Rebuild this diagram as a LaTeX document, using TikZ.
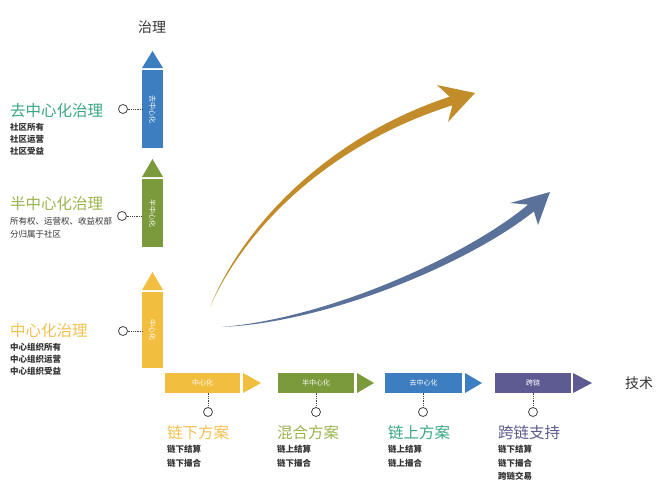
\documentclass[tikz,border=0pt]{standalone}
\usepackage{fontspec}
\usepackage{graphicx}
\setmainfont{Noto Sans CJK SC}
\definecolor{amarillo}{RGB}{242,190,64}
\definecolor{verde}{RGB}{122,154,60}
\definecolor{azul}{RGB}{60,126,192}
\definecolor{morado}{RGB}{94,91,147}
\definecolor{oro}{RGB}{194,140,42}
\definecolor{acero}{RGB}{90,114,153}
\definecolor{turquesa}{RGB}{58,166,132}
\definecolor{oliva}{RGB}{154,180,78}
\definecolor{miel}{RGB}{242,192,80}
\definecolor{lila}{RGB}{92,90,140}
\definecolor{texto}{RGB}{51,51,51}
\definecolor{gris}{RGB}{68,68,68}
\begin{document}
\begin{tikzpicture}[x=1pt,y=-1pt]

	%DEFINICIONES
	\tikzstyle{every node}=[inner sep=0pt, outer sep=0pt]
	\tikzstyle{barra} = [align=center, text=white, font=\fontsize{7}{7}\selectfont, minimum width=21pt]
	\tikzstyle{barrah} = [align=center, text=white, font=\fontsize{7}{7}\selectfont, minimum height=20pt]
	\tikzstyle{titulo} = [anchor=west, font=\fontsize{15.5}{16}\selectfont]
	\tikzstyle{detalle} = [anchor=north west, align=left, text=texto, font=\bfseries\fontsize{8.5}{12}\selectfont]
	\tikzstyle{detalleb} = [anchor=north west, align=left, text=texto, font=\bfseries\fontsize{8.5}{13.5}\selectfont]
	\tikzstyle{punto} = [circle, draw=gris, fill=white, line width=0.8pt, minimum size=9pt]
	\tikzstyle{guion} = [densely dotted, draw=gris, line width=0.8pt]
	\tikzstyle{eje} = [font=\fontsize{14}{14}\selectfont, text=texto]

	\useasboundingbox (0,0) rectangle (668,498);

	%EJES
	\draw(152,27) node[eje](ejey){治理};
	\draw(639,383) node[eje](ejex){技术};

	%BARRAS VERTICALES
	\draw(152.5,109) node[barra, fill=azul, minimum height=78pt](vd){\rotatebox{-90}{去中心化}};
	\draw(152.5,213) node[barra, fill=verde, minimum height=68pt](vs){\rotatebox{-90}{半中心化}};
	\draw(152.5,330) node[barra, fill=amarillo, minimum height=76pt](vc){\rotatebox{-90}{中心化}};
	\fill[azul] ([yshift=2pt]vd.north west) -- ([yshift=2pt]vd.north east) -- ([yshift=19pt]vd.north) -- cycle;
	\fill[verde] ([yshift=2pt]vs.north west) -- ([yshift=2pt]vs.north east) -- ([yshift=20pt]vs.north) -- cycle;
	\fill[amarillo] ([yshift=2pt]vc.north west) -- ([yshift=2pt]vc.north east) -- ([yshift=20pt]vc.north) -- cycle;

	%BARRAS HORIZONTALES
	\draw(202.5,383) node[barrah, fill=amarillo, minimum width=75pt](hc){中心化};
	\draw(316,383) node[barrah, fill=verde, minimum width=76pt](hs){半中心化};
	\draw(423.5,383) node[barrah, fill=azul, minimum width=77pt](hd){去中心化};
	\draw(533,383) node[barrah, fill=morado, minimum width=76pt](hx){跨链};
	\fill[amarillo] ([xshift=3pt]hc.north east) -- ([xshift=3pt]hc.south east) -- ([xshift=21pt]hc.east) -- cycle;
	\fill[verde] ([xshift=3pt]hs.north east) -- ([xshift=3pt]hs.south east) -- ([xshift=20pt]hs.east) -- cycle;
	\fill[azul] ([xshift=3pt]hd.north east) -- ([xshift=3pt]hd.south east) -- ([xshift=20pt]hd.east) -- cycle;
	\fill[morado] ([xshift=2pt]hx.north east) -- ([xshift=2pt]hx.south east) -- ([xshift=21pt]hx.east) -- cycle;

	%PUNTOS
	\draw(123,109) node[punto](pd){};
	\draw(122,216) node[punto](ps){};
	\draw(123,331) node[punto](pc){};
	\draw(208,412) node[punto](qc){};
	\draw(316,412) node[punto](qs){};
	\draw(423,412) node[punto](qd){};
	\draw(533,412) node[punto](qx){};
	\draw [guion] (pd.east) -- (pd.east -| vd.west);
	\draw [guion] (ps.east) -- (ps.east -| vs.west);
	\draw [guion] (pc.east) -- (pc.east -| vc.west);
	\draw [guion] (qc.north) -- (qc.north |- hc.south);
	\draw [guion] (qs.north) -- (qs.north |- hs.south);
	\draw [guion] (qd.north) -- (qd.north |- hd.south);
	\draw [guion] (qx.north) -- (qx.north |- hx.south);

	%TEXTOS IZQUIERDA
	\draw(10,111) node[titulo, text=turquesa](td){去中心化治理};
	\draw(10,123.5) node[detalle](dd){社区所有\\社区运营\\社区受益};
	\draw(10,204) node[titulo, text=oliva](ts){半中心化治理};
	\draw(10,217.5) node[detalle, font=\fontsize{8.5}{13}\selectfont](ds){所有权、运营权、收益权部\\分归属于社区};
	\draw(10,331) node[titulo, text=miel](tc){中心化治理};
	\draw(10,343.5) node[detalle](dc){中心组织所有\\中心组织运营\\中心组织受益};

	%TEXTOS ABAJO
	\draw(167,433) node[titulo, text=miel](bc){链下方案};
	\draw(167,445.5) node[detalleb](ec){链下结算\\链下撮合};
	\draw(277,433) node[titulo, text=oliva](bs){混合方案};
	\draw(277,445.5) node[detalleb](es){链上结算\\链下撮合};
	\draw(388,433) node[titulo, text=turquesa](bd){链上方案};
	\draw(388,445.5) node[detalleb](ed){链上结算\\链上撮合};
	\draw(498,433) node[titulo, text=lila](bx){跨链支持};
	\draw(498,445.5) node[detalleb](ex){链下结算\\链下撮合\\跨链交易};

	%FLECHAS
	\fill[oro] (210,307) .. controls (243.6,224.4) and (329,136.5) .. (449.6,96.7) -- (437,85) -- (475,93) -- (448,122) -- (452.4,105.3) .. controls (331,143.5) and (246.4,225.6) .. (210,307) -- cycle;
	\fill[acero] (222,327) .. controls (330,318) and (468,255) .. (528.1,204.6) -- (510,203) -- (550,192) -- (538,225) -- (533.9,211.4) .. controls (472,261) and (332,322) .. (222,327) -- cycle;
\end{tikzpicture}
\end{document}
